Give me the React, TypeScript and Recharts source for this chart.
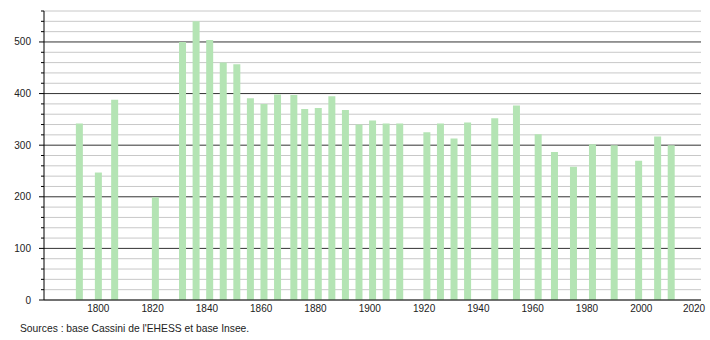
import React from 'react';
import { BarChart, Bar, XAxis, YAxis, CartesianGrid } from 'recharts';

const years = [
  1793, 1800, 1806, 1821, 1831, 1836, 1841, 1846, 1851, 1856, 1861, 1866, 1872, 1876, 1881, 1886, 1891, 1896,
  1901, 1906, 1911, 1921, 1926, 1931, 1936, 1946, 1954, 1962, 1968, 1975, 1982, 1990, 1999, 2006, 2011,
];
const population = [
  342, 247, 388, 199, 500, 540, 504, 460, 457, 391, 380, 398, 397, 370, 372, 395, 368, 340,
  348, 342, 342, 325, 342, 313, 344, 352, 377, 321, 287, 258, 302, 300, 270, 317, 300,
];
const xTicks = [1800, 1820, 1840, 1860, 1880, 1900, 1920, 1940, 1960, 1980, 2000, 2020];
const yTicks = [0, 20, 40, 60, 80, 100, 120, 140, 160, 180, 200, 220, 240, 260, 280, 300, 320, 340, 360, 380, 400, 420, 440, 460, 480, 500, 520, 540, 560];
const sourceNote = "Sources : base Cassini de l'EHESS et base Insee.";

const data = years.map((year, i) => ({ year, pop: population[i] }));

const FONT = '"Liberation Sans", Arial, sans-serif';

const YTick = ({ x, y, payload }: any) => {
  const major = payload.value % 100 === 0;
  return (
    <g>
      <line x1={x - (major ? 5 : 3)} x2={x} y1={y} y2={y} stroke="#000" strokeWidth={1} />
      {major && (
        <text x={x - 13} y={y + 3.5} textAnchor="end" fontSize={10} fontFamily={FONT} fill="#222">
          {payload.value}
        </text>
      )}
    </g>
  );
};

const XTick = ({ x, y, payload }: any) => (
  <text x={x} y={y + 12} textAnchor="middle" fontSize={10} fontFamily={FONT} fill="#222">
    {payload.value}
  </text>
);

const GridLine = (props: any) => {
  const value = yTicks[props.index];
  const major = value % 100 === 0 && value !== 0;
  return (
    <line
      x1={props.x1}
      x2={props.x2}
      y1={props.y1}
      y2={props.y2}
      stroke={major ? '#333' : '#c8c8c8'}
      strokeWidth={1}
    />
  );
};

export default function App() {
  return (
    <div style={{ position: 'absolute', left: 0, top: 0, width: 710, height: 340, background: '#fff' }}>
      <BarChart width={710} height={340} data={data} margin={{ top: 11, right: 9, left: 0, bottom: 0 }}>
        <CartesianGrid vertical={false} horizontal={GridLine} />
        <XAxis
          dataKey="year"
          type="number"
          domain={[1780, 2022]}
          ticks={xTicks}
          allowDataOverflow
          height={40}
          tickSize={0}
          tickMargin={0}
          tickLine={false}
          axisLine={{ stroke: '#000' }}
          tick={<XTick />}
        />
        <YAxis
          domain={[0, 560]}
          ticks={yTicks}
          interval={0}
          width={44}
          tickSize={0}
          tickMargin={0}
          tickLine={false}
          axisLine={{ stroke: '#000' }}
          tick={<YTick />}
        />
        <Bar dataKey="pop" fill="#b4e4b4" barSize={7} isAnimationActive={false} />
      </BarChart>
      <div
        style={{
          position: 'absolute',
          left: 20,
          top: 323,
          fontFamily: FONT,
          fontSize: 10.3,
          color: '#222',
          whiteSpace: 'nowrap',
        }}
      >
        {sourceNote}
      </div>
    </div>
  );
}
